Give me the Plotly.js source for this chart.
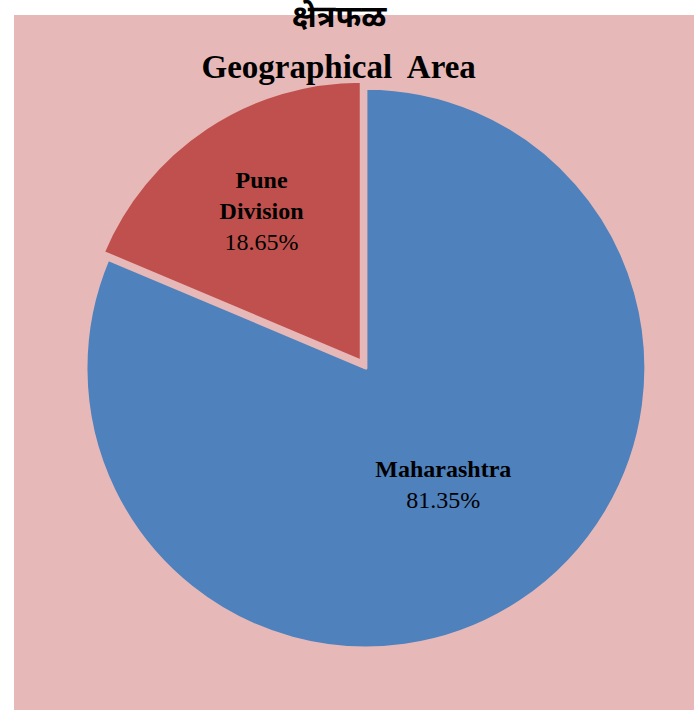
<!DOCTYPE html>
<html><head><meta charset="utf-8">
<script src="https://cdn.plot.ly/plotly-3.0.1.min.js"></script>
<style>body{margin:0;padding:0;background:#fff}#chart{width:694px;height:710px}</style>
</head><body><div id="chart"></div>
<script>
const labels = ['Maharashtra', 'Pune Division'];
const displayText = ['Maharashtra', 'Pune<br>Division'];
const values = [81.35, 18.65];
const colors = ['#4F81BD', '#C0504D'];
const pulls = [0, 0.03];
const titleMarathi = 'क्षेत्रफळ';
const titleEnglish = 'Geographical  Area';

const trace = {
  type: 'pie',
  labels: labels,
  values: values,
  text: displayText,
  sort: false,
  direction: 'clockwise',
  rotation: 0,
  pull: pulls,
  marker: {colors: colors, line: {color: '#E6B9B8', width: 3}},
  texttemplate: '<b>%{text}</b><br>%{percent:.2%}',
  textposition: 'inside',
  insidetextorientation: 'horizontal',
  textfont: {family: 'Liberation Serif, serif', size: 24, color: '#000'},
  hoverinfo: 'label+percent',
  showlegend: false,
  domain: {x: [0.0935, 0.9415], y: [0.077, 0.907]}
};

const layout = {
  width: 694, height: 710,
  margin: {l: 14, r: 0, t: 15, b: 0},
  paper_bgcolor: '#ffffff',
  title: {
    text: '<b>' + titleEnglish + '</b>',
    font: {family: 'Liberation Serif, serif', size: 33, color: '#000'},
    x: 0.488, xanchor: 'center', xref: 'container',
    y: 1 - 66 / 710, yanchor: 'middle', yref: 'container'
  },
  annotations: [{
    text: '<b>' + titleMarathi + '</b>',
    xref: 'paper', yref: 'paper', x: 0.479, y: 1 + (15 - 20) / 695,
    xanchor: 'center', yanchor: 'middle', showarrow: false,
    font: {family: 'Noto Sans Devanagari, Lohit Devanagari, FreeSans, Noto Sans, sans-serif', size: 31, color: '#000'}
  }],
  shapes: [{type: 'rect', xref: 'paper', yref: 'paper', x0: 0, x1: 1, y0: 0, y1: 1,
            fillcolor: '#E6B9B8', line: {width: 0}, layer: 'below'}]
};

Plotly.newPlot('chart', [trace], layout, {displayModeBar: false});
</script></body></html>
